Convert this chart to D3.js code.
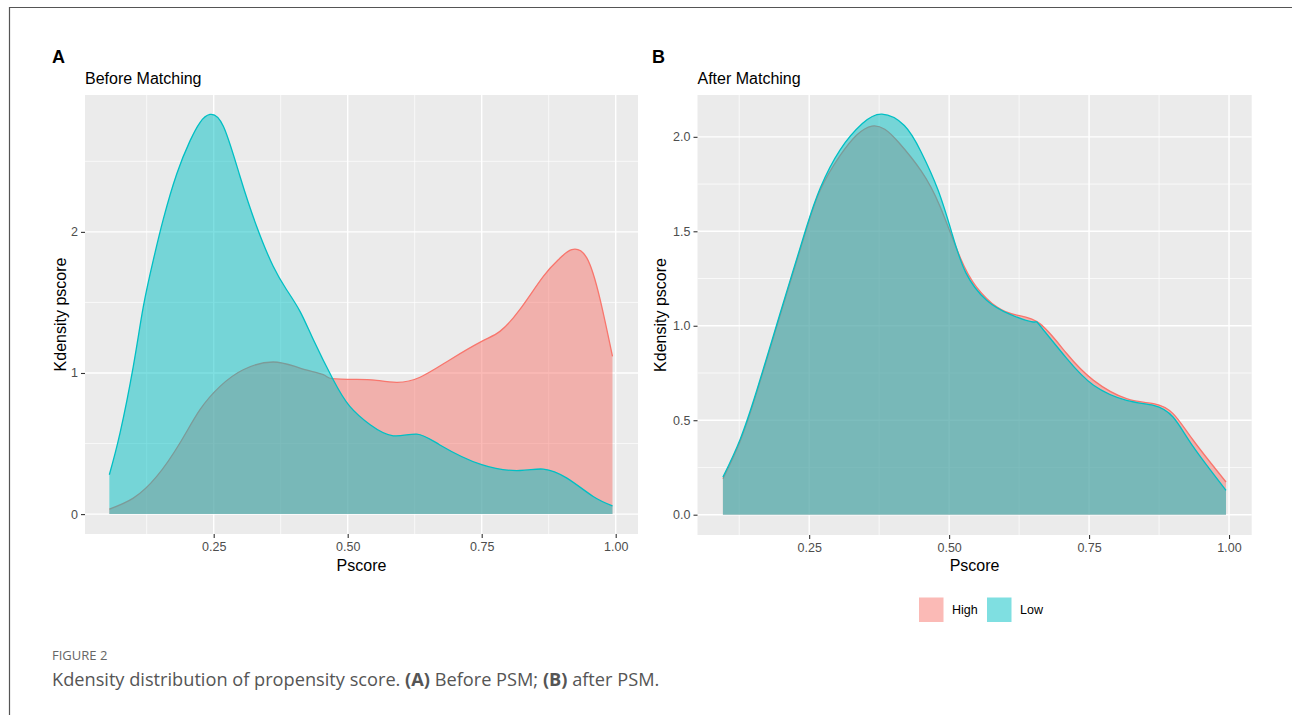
<!DOCTYPE html>
<html>
<head>
<meta charset="utf-8">
<script src="https://cdn.jsdelivr.net/npm/d3@7"></script>
<style>
  body { margin: 0; background: #fff; }
  svg { display: block; }
</style>
</head>
<body>
<div id="chart"></div>
<script>
// Kdensity of propensity score, before / after matching

// ==========================================================
// Data

var groups = ["High", "Low"];

// Panel A - before matching
var beforeHighX = [0.0553, 0.1, 0.1437, 0.187, 0.2244, 0.2618, 0.305, 0.361, 0.411, 0.4545, 0.471, 0.517, 0.55, 0.591, 0.635, 0.691, 0.75, 0.784, 0.821, 0.865, 0.895, 0.918, 0.946, 0.971, 0.994];
var beforeHighY = [0.035, 0.113, 0.267, 0.504, 0.74, 0.905, 1.023, 1.078, 1.035, 0.988, 0.96, 0.955, 0.95, 0.934, 0.97, 1.094, 1.224, 1.295, 1.449, 1.685, 1.81, 1.874, 1.816, 1.52, 1.118];

var beforeLowX = [0.0553, 0.0752, 0.1, 0.1187, 0.1373, 0.156, 0.181, 0.2058, 0.2244, 0.243, 0.268, 0.299, 0.33, 0.361, 0.386, 0.411, 0.436, 0.473, 0.504, 0.542, 0.585, 0.629, 0.672, 0.75, 0.821, 0.865, 0.909, 0.958, 0.994];
var beforeLowY = [0.279, 0.574, 1.047, 1.47, 1.80, 2.09, 2.41, 2.645, 2.775, 2.832, 2.749, 2.394, 2.04, 1.756, 1.59, 1.437, 1.236, 0.952, 0.763, 0.633, 0.555, 0.567, 0.49, 0.35, 0.309, 0.319, 0.255, 0.125, 0.059];

// Panel B - after matching
var afterHighX = [0.0959, 0.1268, 0.1566, 0.1863, 0.216, 0.245, 0.27, 0.305, 0.335, 0.362, 0.385, 0.41, 0.45, 0.484, 0.52, 0.549, 0.585, 0.621, 0.6625, 0.71, 0.758, 0.817, 0.865, 0.9, 0.936, 0.9946];
var afterHighY = [0.19, 0.39, 0.65, 0.94, 1.23, 1.51, 1.72, 1.9, 2.01, 2.057, 2.04, 1.97, 1.82, 1.63, 1.36, 1.205, 1.1, 1.056, 1.01, 0.853, 0.711, 0.614, 0.588, 0.535, 0.394, 0.173];

var afterLowX = [0.0959, 0.1268, 0.1566, 0.1863, 0.216, 0.245, 0.27, 0.305, 0.345, 0.38, 0.42, 0.45, 0.48, 0.505, 0.53, 0.567, 0.609, 0.65, 0.6625, 0.71, 0.758, 0.817, 0.865, 0.9, 0.936, 0.9946];
var afterLowY = [0.199, 0.40, 0.66, 0.95, 1.24, 1.52, 1.73, 1.93, 2.07, 2.12, 2.06, 1.92, 1.72, 1.49, 1.28, 1.135, 1.06, 1.02, 1.0, 0.827, 0.685, 0.605, 0.579, 0.517, 0.36, 0.129];

var xTicks = [0.25, 0.50, 0.75, 1.00];
var xMinor = [0.125, 0.375, 0.625, 0.875];
var yTicksA = [0, 1, 2];
var yMinorA = [0.5, 1.5, 2.5];
var yTicksB = [0, 0.5, 1.0, 1.5, 2.0];
var yMinorB = [0.25, 0.75, 1.25, 1.75];

// ==========================================================
// Styles

var colors = { High: "#F8766D", Low: "#00BFC4" };
var font = "'Liberation Sans', Arial, sans-serif";

var svgWidth = 1292;
var svgHeight = 715;

var svg = d3.select("#chart")
  .append("svg")
  .attr("width", svgWidth)
  .attr("height", svgHeight);

// page frame
svg.append("path")
  .attr("d", "M9.5,715 V7.5 H1292")
  .attr("fill", "none")
  .attr("stroke", "#555")
  .attr("stroke-width", 1.2);

function zip(xs, ys) {
  return xs.map(function(x, i) { return { x: x, y: ys[i] }; });
}

// draws one ggplot-like density panel
function drawPanel(opt) {
  var x = d3.scaleLinear().domain(opt.xDomain).range([opt.left, opt.right]);
  var y = d3.scaleLinear().domain(opt.yDomain).range([opt.bottom, opt.top]);

  var g = svg.append("g");

  g.append("rect")
    .attr("x", opt.left).attr("y", opt.top)
    .attr("width", opt.right - opt.left)
    .attr("height", opt.bottom - opt.top)
    .attr("fill", "#EBEBEB");

  // minor grid
  g.selectAll(".vminor").data(xMinor).enter().append("line")
    .attr("x1", d => x(d)).attr("x2", d => x(d))
    .attr("y1", opt.top).attr("y2", opt.bottom)
    .attr("stroke", "#fff").attr("stroke-width", 0.7);
  g.selectAll(".hminor").data(opt.yMinor).enter().append("line")
    .attr("y1", d => y(d)).attr("y2", d => y(d))
    .attr("x1", opt.left).attr("x2", opt.right)
    .attr("stroke", "#fff").attr("stroke-width", 0.7);

  // major grid
  g.selectAll(".vmajor").data(xTicks).enter().append("line")
    .attr("x1", d => x(d)).attr("x2", d => x(d))
    .attr("y1", opt.top).attr("y2", opt.bottom)
    .attr("stroke", "#fff").attr("stroke-width", 1.4);
  g.selectAll(".hmajor").data(opt.yTicks).enter().append("line")
    .attr("y1", d => y(d)).attr("y2", d => y(d))
    .attr("x1", opt.left).attr("x2", opt.right)
    .attr("stroke", "#fff").attr("stroke-width", 1.4);

  var area = d3.area()
    .x(d => x(d.x))
    .y0(y(0))
    .y1(d => y(d.y))
    .curve(d3.curveNatural);

  var line = d3.line()
    .x(d => x(d.x))
    .y(d => y(d.y))
    .curve(d3.curveNatural);

  // High first, Low drawn on top (alpha 0.5)
  opt.series.forEach(function(s) {
    var pts = zip(s.xs, s.ys);
    g.append("path")
      .datum(pts)
      .attr("d", area)
      .attr("fill", colors[s.name])
      .attr("fill-opacity", 0.5);
    g.append("path")
      .datum(pts)
      .attr("d", line)
      .attr("fill", "none")
      .attr("stroke", colors[s.name])
      .attr("stroke-width", 1.3);
  });

  // axes
  var bottomAxis = d3.axisBottom(x).tickValues(xTicks).tickFormat(d3.format(".2f"))
    .tickSize(4).tickPadding(4);
  var leftAxis = d3.axisLeft(y).tickValues(opt.yTicks).tickFormat(opt.yFormat)
    .tickSize(4).tickPadding(3);

  var xa = g.append("g")
    .attr("transform", `translate(0, ${opt.bottom})`)
    .call(bottomAxis);
  var ya = g.append("g")
    .attr("transform", `translate(${opt.left}, 0)`)
    .call(leftAxis);

  [xa, ya].forEach(function(a) {
    a.select(".domain").remove();
    a.selectAll("line").attr("stroke", "#333").attr("stroke-width", 1.1);
    a.selectAll("text")
      .attr("fill", "#4D4D4D")
      .style("font-family", font)
      .style("font-size", "12.5px");
  });

  // axis titles
  g.append("text")
    .attr("x", (opt.left + opt.right) / 2)
    .attr("y", 571)
    .attr("text-anchor", "middle")
    .style("font-family", font)
    .style("font-size", "16px")
    .text("Pscore");

  g.append("text")
    .attr("transform", "rotate(-90)")
    .attr("x", -(opt.top + opt.bottom) / 2)
    .attr("y", opt.ytitleX)
    .attr("text-anchor", "middle")
    .style("font-family", font)
    .style("font-size", "16px")
    .text("Kdensity pscore");

  // plot title + panel letter
  g.append("text")
    .attr("x", opt.left)
    .attr("y", 84)
    .style("font-family", font)
    .style("font-size", "16px")
    .text(opt.title);

  g.append("text")
    .attr("x", opt.letterX)
    .attr("y", 63)
    .style("font-family", font)
    .style("font-size", "18px")
    .style("font-weight", "bold")
    .text(opt.letter);
}

drawPanel({
  left: 85, right: 638, top: 95, bottom: 534,
  xDomain: [0.0099, 1.0416],
  yDomain: [-0.141, 2.97],
  yTicks: yTicksA, yMinor: yMinorA,
  yFormat: d3.format("d"),
  ytitleX: 66,
  title: "Before Matching",
  letter: "A", letterX: 52,
  series: [
    { name: "High", xs: beforeHighX, ys: beforeHighY },
    { name: "Low", xs: beforeLowX, ys: beforeLowY }
  ]
});

drawPanel({
  left: 697.5, right: 1251.7, top: 95, bottom: 535,
  xDomain: [0.0505, 1.0405],
  yDomain: [-0.1075, 2.2214],
  yTicks: yTicksB, yMinor: yMinorB,
  yFormat: d3.format(".1f"),
  ytitleX: 666,
  title: "After Matching",
  letter: "B", letterX: 652,
  series: [
    { name: "High", xs: afterHighX, ys: afterHighY },
    { name: "Low", xs: afterLowX, ys: afterLowY }
  ]
});

// ==========================================================
// Legend (under panel B)
var legendX = [919, 987];
var legend = svg.append("g");
groups.forEach(function(name, i) {
  legend.append("rect")
    .attr("x", legendX[i]).attr("y", 597.5)
    .attr("width", 24.5).attr("height", 24.5)
    .attr("fill", colors[name])
    .attr("fill-opacity", 0.5);
  legend.append("text")
    .attr("x", legendX[i] + 33)
    .attr("y", 614)
    .style("font-family", font)
    .style("font-size", "12.5px")
    .text(name);
});

// ==========================================================
// Caption
var capFont = "'Open Sans', Lato, sans-serif";
svg.append("text")
  .attr("x", 52).attr("y", 660)
  .style("font-family", capFont)
  .style("font-size", "13px")
  .attr("fill", "#666")
  .text("FIGURE 2");

var cap = svg.append("text")
  .attr("x", 52).attr("y", 686)
  .style("font-family", capFont)
  .style("font-size", "18.2px")
  .attr("fill", "#555");
cap.append("tspan").text("Kdensity distribution of propensity score. ");
cap.append("tspan").style("font-weight", "bold").text("(A)");
cap.append("tspan").text(" Before PSM; ");
cap.append("tspan").style("font-weight", "bold").text("(B)");
cap.append("tspan").text(" after PSM.");
</script>
</body>
</html>
